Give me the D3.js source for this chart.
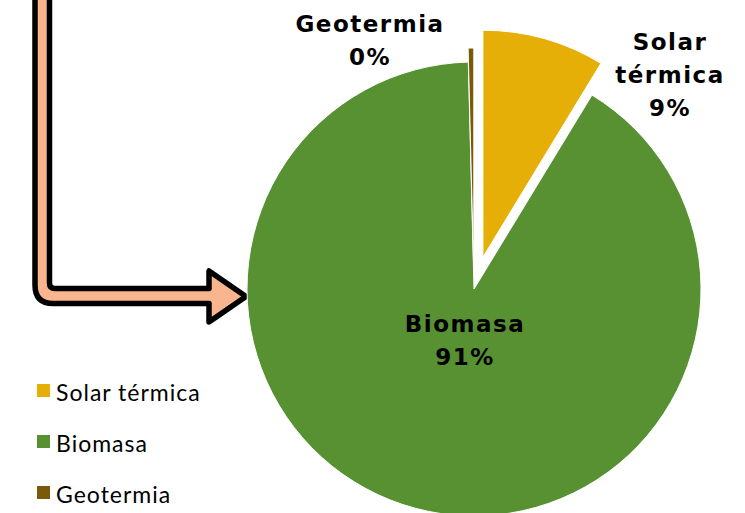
<!DOCTYPE html>
<html>
<head>
<meta charset="utf-8">
<script src="https://cdn.jsdelivr.net/npm/d3@7"></script>
<style>
  body { margin: 0; background: #fff; }
  svg { display: block; }
</style>
</head>
<body>
<svg width="745" height="513"></svg>
<script>
// data
var categories = ["Solar térmica", "Biomasa", "Geotermia"];
var values = [8.7, 90.9, 0.4];
var pctLabels = ["9%", "91%", "0%"];

// styles
var colors = ["#E6AF08", "#589132", "#7A5A08"];
var explode = [33, 0, 14];

var svg = d3.select("svg"),
    cx = 474, cy = 289, radius = 227;

// decorative arrow pointing at the pie
svg.append("path")
   .attr("d", "M35,-10 L35,285 Q35,303.5 53,303.5 L209,303.5 L209,322 L246,296.5 L209,271 L209,288.5 L55,288.5 Q49.5,288.5 49.5,283 L49.5,-10 Z")
   .attr("fill", "#F9B68E")
   .attr("stroke", "#000")
   .attr("stroke-width", 5.5)
   .attr("stroke-linejoin", "round");

var pie = d3.pie().sort(null).value(function(d) { return d; });
var arc = d3.arc().innerRadius(0).outerRadius(radius);
var arcs = pie(values);

var g = svg.append("g").attr("transform", "translate(" + cx + "," + cy + ")");

g.selectAll(".slice")
 .data(arcs)
 .enter().append("path")
 .attr("class", "slice")
 .attr("transform", function(d, i) {
     var a = (d.startAngle + d.endAngle) / 2;
     return "translate(" + (Math.sin(a) * explode[i]) + "," + (-Math.cos(a) * explode[i]) + ")";
 })
 .attr("d", arc)
 .attr("fill", function(d, i) { return colors[i]; })
 .attr("stroke", "#fff")
 .attr("stroke-width", 1);

// data labels
var labelPos = [
    { x: 670, y: 50, lines: ["Solar", "térmica", pctLabels[0]] },
    { x: 465, y: 332, lines: ["Biomasa", pctLabels[1]] },
    { x: 370, y: 32, lines: ["Geotermia", pctLabels[2]] }
];
labelPos.forEach(function(p) {
    var t = svg.append("text")
       .attr("x", p.x).attr("y", p.y)
       .attr("text-anchor", "middle")
       .attr("font-family", "'DejaVu Sans', sans-serif")
       .attr("font-weight", "bold")
       .attr("font-size", "23px")
       .attr("letter-spacing", "1.5px")
       .attr("fill", "#000");
    p.lines.forEach(function(s, k) {
        t.append("tspan").attr("x", p.x).attr("dy", k === 0 ? 0 : 33).text(s);
    });
});

// legend
var legend = svg.selectAll(".legend")
    .data(categories)
    .enter().append("g")
    .attr("class", "legend")
    .attr("transform", function(d, i) { return "translate(37," + (384 + i * 51) + ")"; });

legend.append("rect")
      .attr("width", 13).attr("height", 13)
      .attr("fill", function(d, i) { return colors[i]; });

legend.append("text")
      .attr("x", 19).attr("y", 17)
      .attr("font-family", "Lato, sans-serif")
      .attr("font-size", "23px")
      .attr("letter-spacing", "1px")
      .attr("fill", "#000")
      .text(function(d) { return d; });
</script>
</body>
</html>
